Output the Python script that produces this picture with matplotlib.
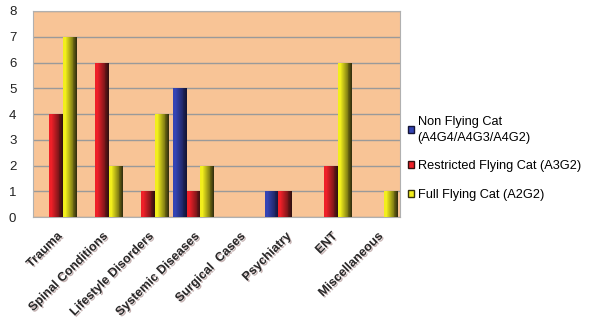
import numpy as np
import matplotlib
matplotlib.use("Agg")
import matplotlib.pyplot as plt
import matplotlib.patheffects as pe
from matplotlib.colors import LinearSegmentedColormap
from matplotlib.patches import Patch

categories = ["Trauma", "Spinal Conditions", "Lifestyle Disorders", "Systemic Diseases",
              "Surgical  Cases", "Psychiatry", "ENT", "Miscellaneous"]
non_flying = [0, 0, 0, 5, 0, 1, 0, 0]
restricted = [4, 6, 1, 1, 0, 1, 2, 0]
full_flying = [7, 2, 4, 2, 0, 0, 6, 1]
series_labels = ["Non Flying Cat\n(A4G4/A4G3/A4G2)", "Restricted Flying Cat (A3G2)",
                 "Full Flying Cat (A2G2)"]

# light -> dark gradient per series (left edge to right edge)
grads = [("#3444b4", "#141436"), ("#ee2028", "#341010"), ("#f2ee1c", "#36320e")]

plt.rcParams["font.family"] = ["Liberation Sans", "DejaVu Sans"]

fig = plt.figure(figsize=(5.9, 3.23), dpi=100)
ax = fig.add_axes([0.056, 0.328, 0.622, 0.638])
ax.set_facecolor("#f8c496")

x = np.arange(len(categories))
w = 0.3
for i, vals in enumerate([non_flying, restricted, full_flying]):
    cmap = LinearSegmentedColormap.from_list(
        "g%d" % i, [(0, grads[i][0]), (0.2, grads[i][0]), (1, grads[i][1])])
    bars = ax.bar(x + (i - 1) * w, vals, width=w, color="none", zorder=3)
    for b in bars:
        if b.get_height() == 0:
            continue
        x0, y0 = b.get_x(), b.get_y()
        im = ax.imshow(np.linspace(0, 1, 16).reshape(1, -1), cmap=cmap, aspect="auto",
                       extent=[x0, x0 + b.get_width(), y0, y0 + b.get_height()],
                       zorder=3, interpolation="nearest")
        im.set_clip_path(b)

ax.set_xlim(-0.5, len(categories) - 0.5)
ax.set_ylim(0, 8)
ax.set_yticks(range(0, 9))
ax.yaxis.grid(True, color="#9a9a9a", linewidth=1.0, zorder=0)
ax.set_axisbelow(True)
for s in ax.spines.values():
    s.set_color("#b0b0b0")
ax.tick_params(axis="both", length=0)
ax.tick_params(axis="y", labelsize=9.5, labelcolor="#222222", pad=12)
ax.set_xticks(x)
ax.set_xticklabels(categories, rotation=45, ha="right", rotation_mode="anchor",
                   fontsize=9, fontweight="bold", color="#2a2a2a")
for t in ax.get_xticklabels():
    t.set_path_effects([pe.withSimplePatchShadow(offset=(1, -1), shadow_rgbFace="#a08080", alpha=0.6)])
    t.set_y(-0.04)

handles = [Patch(facecolor=g[0], edgecolor=g[1]) for g in grads]
leg = fig.legend(handles, series_labels, loc="center left", bbox_to_anchor=(0.672, 0.51),
                 frameon=False, fontsize=9.2, handlelength=0.5, handleheight=0.5,
                 handletextpad=0.25, labelspacing=1.3)
for t in leg.get_texts():
    t.set_linespacing(1.45)

fig.savefig("out.png", dpi=100)
